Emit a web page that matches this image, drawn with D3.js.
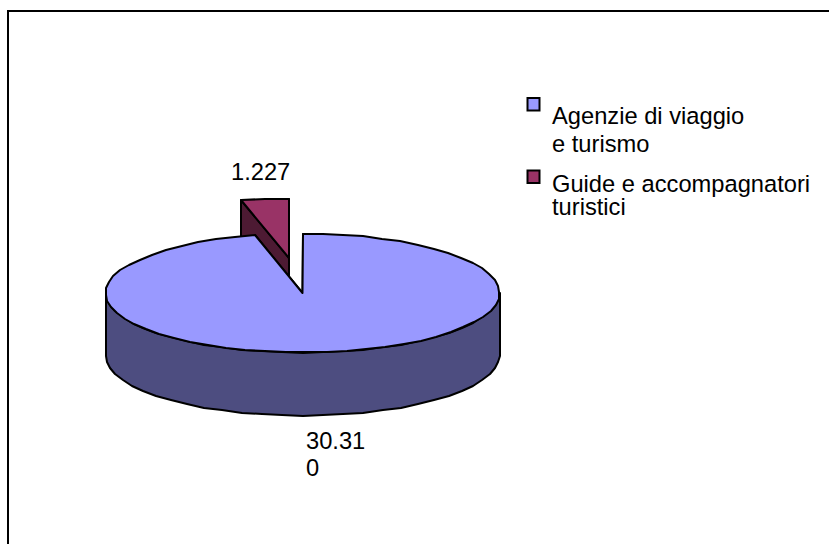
<!DOCTYPE html>
<html>
<head>
<meta charset="utf-8">
<script src="https://cdn.jsdelivr.net/npm/d3@7"></script>
<style>
body { margin: 0; background: #fff; }
text { font-family: "Liberation Sans", Arial, sans-serif; fill: #000; }
</style>
</head>
<body>
<div id="chart"></div>
<script>
const categories = ["Agenzie di viaggio e turismo", "Guide e accompagnatori turistici"];
const values = [30310, 1227];
const valueLabels = [["30.31", "0"], ["1.227"]];
const legendLines = [["Agenzie di viaggio", "e turismo"], ["Guide e accompagnatori", "turistici"]];
const topColors = ["#9999ff", "#993366"];
const wallColors = ["#4d4d80", "#4d1a33"];

const width = 829;
const height = 544;
const cx = 302.5, cy = 293;
const rx = 197, ry = 59.5, depth = 63;
const explode = [[0, 0], [-13.5, -35]];
const lineW = 2;
const fontSize = 23.7;

const svg = d3.select("#chart").append("svg")
    .attr("width", width)
    .attr("height", height)
    .style("display", "block");

svg.append("rect")
    .attr("x", 8).attr("y", 11)
    .attr("width", 830).attr("height", 540)
    .attr("fill", "#fff")
    .attr("stroke", "#000")
    .attr("stroke-width", lineW);

// pie angles run clockwise from 12 o'clock, the smaller slice ends at the top
const pie = d3.pie().sort(null).value(d => d)
    .startAngle(0).endAngle(2 * Math.PI);
const arcs = pie(values);

const xs = d3.scaleLinear().domain([-1, 1]).range([-rx, rx]);
const ys = d3.scaleLinear().domain([-1, 1]).range([-ry, ry]);
const line = d3.line();

// rim points are coarse and rounded, the original outline is a bit lumpy
function rim(a0, a1, ox, oy, dy) {
    const n = Math.max(1, Math.round((a1 - a0) / (Math.PI / 30)));
    return d3.range(n + 1).map(i => {
        const a = a0 + (a1 - a0) * i / n;
        return [Math.round(cx + ox + xs(Math.sin(a))), Math.round(cy + oy + dy + ys(-Math.cos(a)))];
    });
}

function drawSlice(i) {
    const arc = arcs[i];
    const [ox, oy] = explode[i];
    const g = svg.append("g");
    const c = [cx + ox, cy + oy];
    const c2 = [c[0], c[1] + depth];
    const s = rim(arc.startAngle, arc.endAngle, ox, oy, 0);
    const first = s[0], last = s[s.length - 1];

    // cut faces
    [first, last].forEach(p => {
        g.append("path")
            .attr("d", line([c, p, [p[0], p[1] + depth], c2]) + "Z")
            .attr("fill", wallColors[i])
            .attr("stroke", "#000")
            .attr("stroke-width", lineW)
            .attr("stroke-linejoin", "round");
    });

    // outer wall, only the part facing the viewer
    const a0 = Math.max(arc.startAngle, Math.PI / 2);
    const a1 = Math.min(arc.endAngle, 3 * Math.PI / 2);
    if (a1 > a0) {
        const up = rim(a0, a1, ox, oy, 0);
        const down = rim(a0, a1, ox, oy, depth).reverse();
        g.append("path")
            .attr("d", line(up.concat(down)) + "Z")
            .attr("fill", wallColors[i])
            .attr("stroke", "#000")
            .attr("stroke-width", lineW)
            .attr("stroke-linejoin", "round");
    }

    g.append("path")
        .attr("d", line([c].concat(s)) + "Z")
        .attr("fill", topColors[i])
        .attr("stroke", "#000")
        .attr("stroke-width", lineW)
        .attr("stroke-linejoin", "round");
}

drawSlice(1);
drawSlice(0);

// data labels
const labelPos = [[306, 449], [231, 180]];
valueLabels.forEach((lines, i) => {
    lines.forEach((t, j) => {
        svg.append("text")
            .attr("x", labelPos[i][0])
            .attr("y", labelPos[i][1] + j * 27)
            .attr("font-size", fontSize)
            .text(t);
    });
});

// legend
const legendY = [[124, 152], [192, 215]];
const swatchY = [98, 170.5];
categories.forEach((c, i) => {
    svg.append("rect")
        .attr("x", 527.5).attr("y", swatchY[i])
        .attr("width", 12).attr("height", 12.5)
        .attr("fill", topColors[i])
        .attr("stroke", "#000")
        .attr("stroke-width", lineW);
    legendLines[i].forEach((t, j) => {
        svg.append("text")
            .attr("x", 552)
            .attr("y", legendY[i][j])
            .attr("font-size", fontSize)
            .text(t);
    });
});
</script>
</body>
</html>
